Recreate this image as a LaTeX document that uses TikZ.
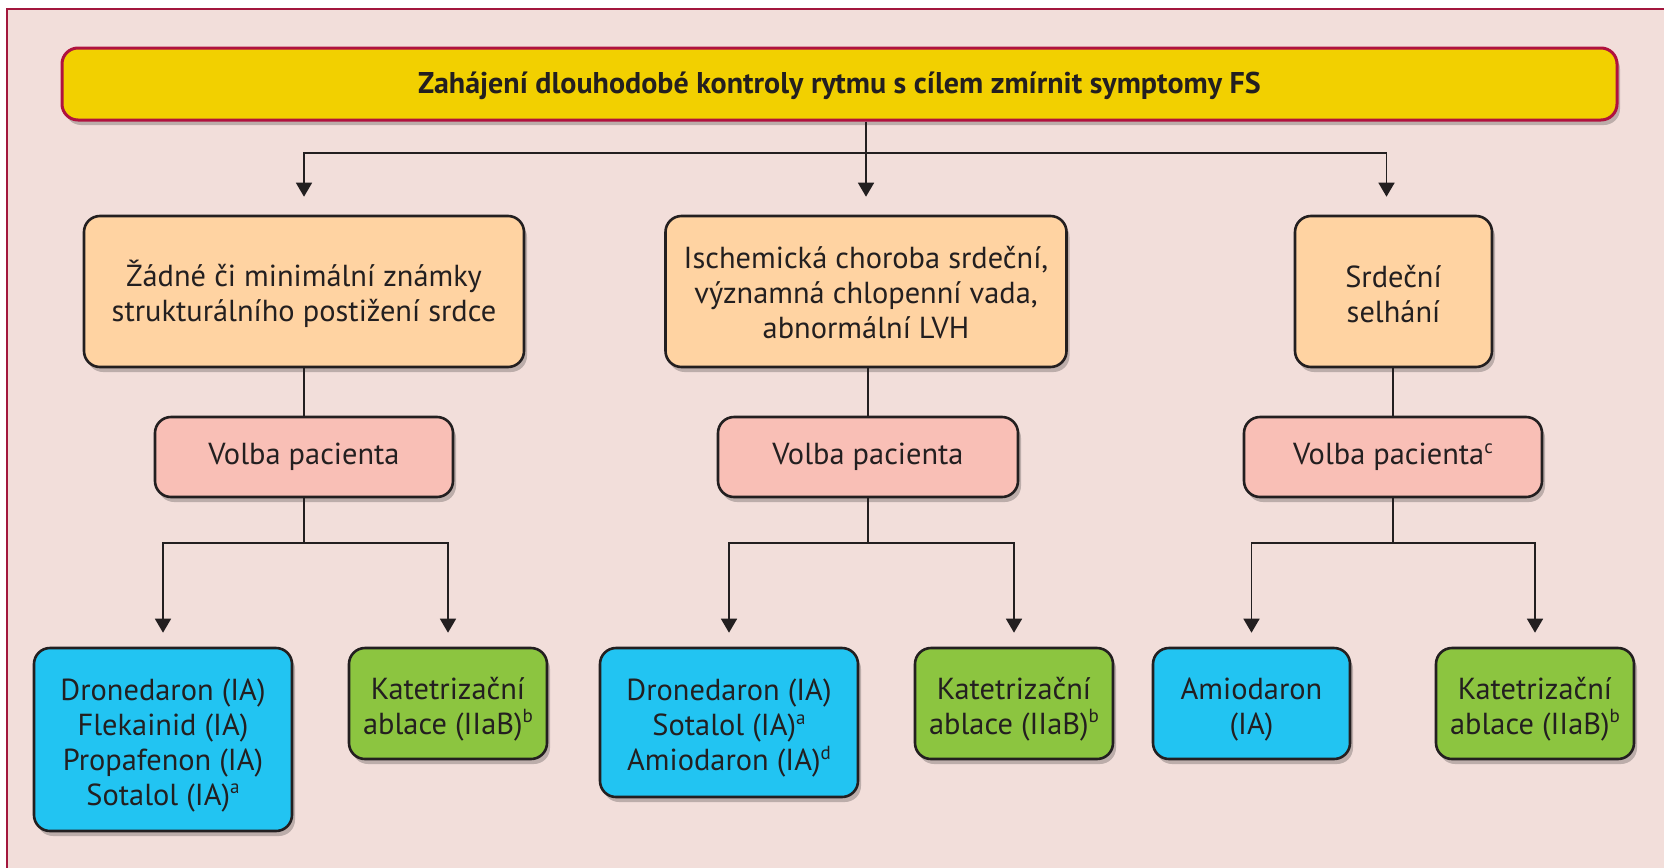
\documentclass[tikz,border=0pt]{standalone}
\usepackage{fontspec}
\setmainfont{PT Sans}
\usetikzlibrary{arrows.meta,shadows}
\definecolor{bgc}{HTML}{F2DEDA}
\definecolor{framec}{HTML}{A3173D}
\definecolor{yelc}{HTML}{F2D000}
\definecolor{topdraw}{HTML}{B0123F}
\definecolor{peach}{HTML}{FFD3A2}
\definecolor{pinkc}{HTML}{F9BFB6}
\definecolor{bluec}{HTML}{22C4F2}
\definecolor{greenc}{HTML}{8CC540}
\definecolor{txt}{HTML}{231F20}
\definecolor{edge}{HTML}{231F20}
\newcommand\supx[1]{\raisebox{0.75ex}{\fontsize{9.5}{9.5}\selectfont #1}}
\newcommand\stx[1]{\rule{0pt}{#1}}
\tikzset{
  box/.style={rounded corners=8pt, line width=1.3pt, draw=edge, text=txt, align=center,
    inner sep=0pt, font=\fontsize{15.2}{17.5}\selectfont,
    drop shadow={shadow xshift=1.5pt, shadow yshift=-2.5pt, opacity=0.22, fill=black}},
  stem/.style={line width=1.4pt, draw=edge},
  arr/.style={line width=0.8pt, draw=edge, -{Triangle[width=8pt,length=7pt]}},
}
\begin{document}
\begin{tikzpicture}[x=0.5pt,y=-0.5pt]
\useasboundingbox (0,0) rectangle (1664,867);
\fill[bgc] (7,9) rectangle (1690,890);
\draw[framec, line width=1pt] (7,890) -- (7,9) -- (1690,9);

\node[box, fill=yelc, draw=topdraw, line width=1.5pt, minimum width=777.5pt, minimum height=36pt,
  font=\fontsize{15}{17}\selectfont\bfseries] (top) at (839.5,84)
  {\stx{12.5pt}Zahájení dlouhodobé kontroly rytmu s cílem zmírnit symptomy FS};

\node[box, fill=peach, minimum width=220pt, minimum height=75.5pt] (s1) at (304,291.5)
  {\stx{16pt}Žádné či minimální známky\\strukturálního postižení srdce};
\node[box, fill=peach, minimum width=200.5pt, minimum height=75.5pt] (s2) at (866,291.5)
  {\stx{12.5pt}Ischemická choroba srdeční,\\významná chlopenní vada,\\abnormální LVH};
\node[box, fill=peach, minimum width=98.5pt, minimum height=75.5pt] (s3) at (1393.5,291.5)
  {\stx{13.5pt}Srdeční\\selhání};

\node[box, fill=pinkc, minimum width=149pt, minimum height=40pt] (v1) at (304,457) {Volba pacienta};
\node[box, fill=pinkc, minimum width=150pt, minimum height=40pt] (v2) at (868,457) {Volba pacienta};
\node[box, fill=pinkc, minimum width=149pt, minimum height=40pt] (v3) at (1393,457) {Volba pacienta\supx{c}};

\node[box, fill=bluec, minimum width=129pt, minimum height=91.5pt] (b1) at (163,739.5)
  {\stx{16.5pt}Dronedaron (IA)\\Flekainid (IA)\\Propafenon (IA)\\Sotalol (IA)\supx{a}};
\node[box, fill=greenc, minimum width=99pt, minimum height=55.5pt] (g1) at (448,703.5)
  {\stx{16.5pt}Katetrizační\\ablace (IIaB)\supx{b}};
\node[box, fill=bluec, minimum width=129pt, minimum height=74.5pt] (b2) at (729,722.5)
  {\stx{16.5pt}Dronedaron (IA)\\Sotalol (IA)\supx{a}\\Amiodaron (IA)\supx{d}};
\node[box, fill=greenc, minimum width=99pt, minimum height=55.5pt] (g2) at (1014,703.5)
  {\stx{16.5pt}Katetrizační\\ablace (IIaB)\supx{b}};
\node[box, fill=bluec, minimum width=98.5pt, minimum height=55.5pt] (b3) at (1251.5,703.5)
  {\stx{16.5pt}Amiodaron\\(IA)};
\node[box, fill=greenc, minimum width=99pt, minimum height=55.5pt] (g3) at (1535,703.5)
  {\stx{16.5pt}Katetrizační\\ablace (IIaB)\supx{b}};

% top connectors
\coordinate (jt) at (866,153);
\draw[line width=1.1pt, draw=edge] (top.south -| jt) -- (jt);
\draw[arr, shorten >=9pt] (jt) -| (s1.north);
\draw[arr, shorten >=9pt] (jt) -- (s2.north);
\draw[arr, shorten >=9pt] (jt) -| ([xshift=-3.5pt]s3.north);

% column connectors
\coordinate (j1) at (304,543);
\coordinate (j2) at (868,543);
\coordinate (j3) at (1393,543);
\draw[stem] (s1.south) -- (v1.north);
\draw[stem] (s2.south -| v2.north) -- (v2.north);
\draw[stem] (s3.south -| v3.north) -- (v3.north);
\draw[stem] (v1.south) -- (j1);
\draw[stem] (v2.south) -- (j2);
\draw[stem] (v3.south) -- (j3);
\draw[arr, shorten >=7pt] (j1) -| (b1.north);
\draw[arr, shorten >=7pt] (j1) -| (g1.north);
\draw[arr, shorten >=7pt] (j2) -| (b2.north);
\draw[arr, shorten >=7pt] (j2) -| (g2.north);
\draw[arr, shorten >=7pt] (j3) -| (b3.north);
\draw[arr, shorten >=7pt] (j3) -| (g3.north);
\end{tikzpicture}
\end{document}
